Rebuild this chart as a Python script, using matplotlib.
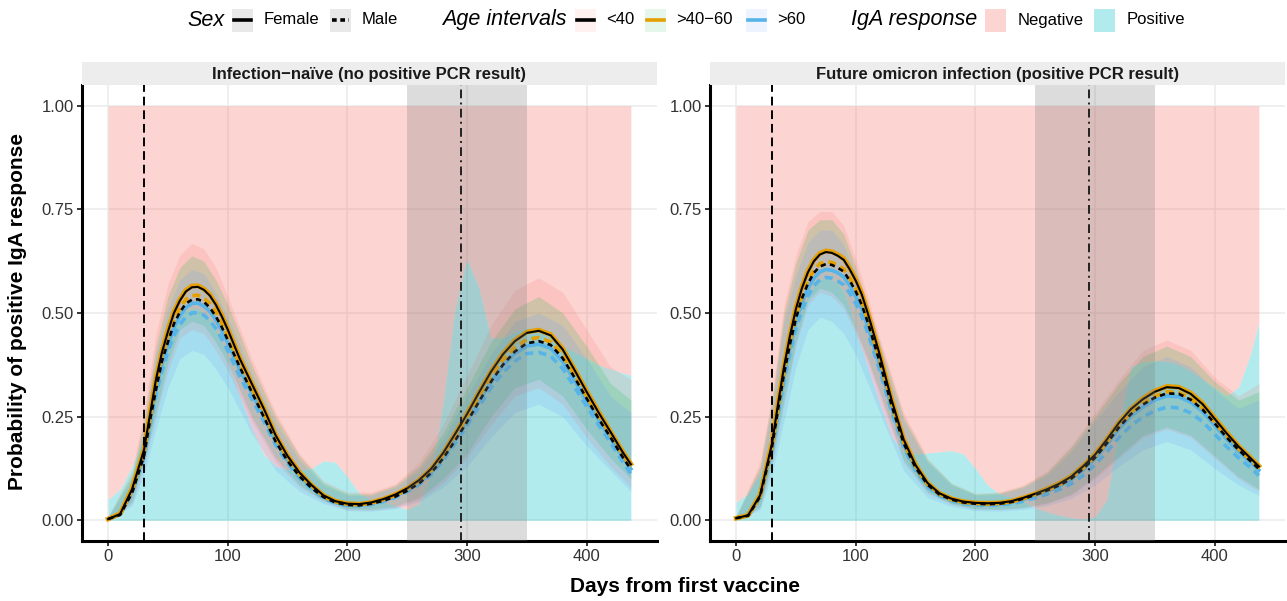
import matplotlib.pyplot as plt
from matplotlib.patches import Rectangle
from matplotlib.lines import Line2D

plt.rcParams['font.family'] = ['Liberation Sans', 'DejaVu Sans']

# grade de dias (curvas) e grade mais grossa (faixas de confiança)
dias = [0, 10, 20, 30,
        35, 40, 45, 50, 55, 60, 65, 70, 75, 80, 85, 90, 95, 100, 105,
        110, 120, 130, 140, 150, 160, 170, 180, 190,
        200, 210, 220, 230, 240, 250, 260, 270, 280, 290,
        300, 310, 320, 330, 340, 350, 360, 370, 380, 390,
        400, 410, 420, 430, 437]
dias_faixa = [0, 20, 30, 40, 50, 60, 70, 80, 90, 100, 110, 120,
              140, 160, 180, 200, 220, 240, 260, 280, 300, 320, 340, 360, 380, 400, 420, 437]

titulos = ["Infection\u2212naïve (no positive PCR result)",
           "Future omicron infection (positive PCR result)"]
idades = ["<40", ">40\u221260", ">60"]
sexos = ["Female", "Male"]
respostas = ["Negative", "Positive"]

# limite superior da área "Positive" (o resto até 1 é "Negative")
positivo_naive = [0.05, 0.075, 0.13, 0.2,
                  0.27, 0.33, 0.39, 0.44, 0.47, 0.49, 0.505, 0.51, 0.51, 0.5, 0.485, 0.46, 0.43, 0.39, 0.345,
                  0.3, 0.22, 0.16, 0.13, 0.123, 0.122, 0.125, 0.143, 0.14,
                  0.105, 0.065, 0.048, 0.042, 0.035, 0.026, 0.04, 0.11, 0.28, 0.51,
                  0.63, 0.56, 0.44, 0.44, 0.455, 0.464, 0.46, 0.44, 0.42, 0.405,
                  0.39, 0.375, 0.365, 0.355, 0.35]
positivo_omicron = [0.043, 0.065, 0.11, 0.19,
                    0.26, 0.33, 0.40, 0.46, 0.505, 0.54, 0.565, 0.58, 0.585, 0.58, 0.57, 0.55, 0.51, 0.46, 0.415,
                    0.37, 0.28, 0.2, 0.165, 0.16, 0.162, 0.165, 0.168, 0.16,
                    0.125, 0.085, 0.064, 0.055, 0.045, 0.03, 0.02, 0.012, 0.006, 0.003,
                    0.008, 0.05, 0.22, 0.37, 0.382, 0.385, 0.383, 0.375, 0.36, 0.34,
                    0.32, 0.30, 0.32, 0.40, 0.476]

# curvas do modelo - painel 1
naive_f_lt40 = [0.003, 0.015, 0.075, 0.17,
                0.255, 0.34, 0.405, 0.455, 0.50, 0.53, 0.552, 0.562, 0.563, 0.556, 0.542, 0.52, 0.492, 0.46, 0.425,
                0.39, 0.33, 0.27, 0.205, 0.155, 0.115, 0.085, 0.06, 0.046,
                0.04, 0.039, 0.043, 0.051, 0.062, 0.077, 0.097, 0.124, 0.162, 0.208,
                0.256, 0.308, 0.358, 0.40, 0.432, 0.452, 0.457, 0.446, 0.412, 0.362,
                0.31, 0.26, 0.213, 0.165, 0.135]
naive_f_4060 = [0.003, 0.016, 0.077, 0.172,
                0.258, 0.343, 0.408, 0.46, 0.503, 0.533, 0.555, 0.565, 0.566, 0.558, 0.545, 0.523, 0.495, 0.462, 0.428,
                0.392, 0.331, 0.271, 0.206, 0.156, 0.116, 0.085, 0.06, 0.046,
                0.04, 0.039, 0.043, 0.051, 0.062, 0.077, 0.097, 0.124, 0.162, 0.209,
                0.257, 0.309, 0.359, 0.402, 0.434, 0.454, 0.459, 0.448, 0.414, 0.364,
                0.312, 0.262, 0.214, 0.166, 0.136]
naive_f_gt60 = [0.003, 0.014, 0.07, 0.158,
                0.237, 0.316, 0.377, 0.423, 0.465, 0.493, 0.513, 0.523, 0.524, 0.517, 0.504, 0.484, 0.458, 0.428, 0.395,
                0.363, 0.307, 0.251, 0.191, 0.144, 0.107, 0.079, 0.056, 0.043,
                0.037, 0.036, 0.04, 0.047, 0.058, 0.072, 0.09, 0.115, 0.151, 0.193,
                0.238, 0.286, 0.333, 0.372, 0.402, 0.42, 0.425, 0.415, 0.383, 0.337,
                0.288, 0.242, 0.198, 0.153, 0.124]
naive_m_lt40 = [0.003, 0.013, 0.066, 0.155,
                0.241, 0.315, 0.384, 0.43, 0.474, 0.502, 0.523, 0.532, 0.533, 0.527, 0.513, 0.492, 0.466, 0.435, 0.402,
                0.37, 0.31, 0.25, 0.19, 0.143, 0.106, 0.078, 0.056, 0.043,
                0.037, 0.036, 0.04, 0.047, 0.057, 0.071, 0.089, 0.114, 0.149, 0.192,
                0.237, 0.286, 0.334, 0.375, 0.407, 0.427, 0.432, 0.423, 0.391, 0.344,
                0.294, 0.245, 0.2, 0.153, 0.123]
naive_m_4060 = [0.003, 0.014, 0.072, 0.164,
                0.246, 0.328, 0.391, 0.444, 0.483, 0.511, 0.533, 0.542, 0.543, 0.536, 0.523, 0.502, 0.475, 0.444, 0.41,
                0.376, 0.318, 0.26, 0.198, 0.15, 0.111, 0.082, 0.058, 0.044,
                0.039, 0.038, 0.041, 0.049, 0.06, 0.074, 0.094, 0.12, 0.156, 0.2,
                0.247, 0.297, 0.345, 0.386, 0.417, 0.436, 0.441, 0.43, 0.398, 0.349,
                0.299, 0.251, 0.206, 0.159, 0.13]
naive_m_gt60 = [0.003, 0.013, 0.067, 0.151,
                0.227, 0.303, 0.36, 0.409, 0.445, 0.472, 0.491, 0.50, 0.501, 0.495, 0.482, 0.463, 0.438, 0.409, 0.378,
                0.347, 0.294, 0.24, 0.182, 0.138, 0.102, 0.076, 0.053, 0.041,
                0.036, 0.035, 0.038, 0.045, 0.055, 0.069, 0.086, 0.11, 0.144, 0.185,
                0.228, 0.274, 0.319, 0.356, 0.384, 0.402, 0.405, 0.396, 0.366, 0.321,
                0.275, 0.23, 0.188, 0.142, 0.112]

# curvas do modelo - painel 2
omicron_f_lt40 = [0.005, 0.012, 0.06, 0.185,
                  0.28, 0.37, 0.445, 0.51, 0.56, 0.598, 0.625, 0.641, 0.647, 0.645, 0.638, 0.628, 0.605, 0.578, 0.545,
                  0.50, 0.40, 0.29, 0.195, 0.133, 0.09, 0.065, 0.052, 0.045,
                  0.042, 0.041, 0.042, 0.046, 0.054, 0.064, 0.075, 0.088, 0.105, 0.13,
                  0.158, 0.195, 0.235, 0.268, 0.292, 0.31, 0.321, 0.319, 0.305, 0.28,
                  0.245, 0.21, 0.178, 0.15, 0.13]
omicron_f_4060 = [0.005, 0.012, 0.061, 0.187,
                  0.283, 0.372, 0.448, 0.513, 0.563, 0.601, 0.628, 0.644, 0.65, 0.648, 0.641, 0.631, 0.608, 0.581, 0.548,
                  0.503, 0.402, 0.292, 0.196, 0.134, 0.09, 0.065, 0.052, 0.045,
                  0.042, 0.041, 0.042, 0.046, 0.054, 0.064, 0.076, 0.089, 0.106, 0.131,
                  0.159, 0.196, 0.236, 0.269, 0.294, 0.312, 0.323, 0.321, 0.307, 0.282,
                  0.247, 0.212, 0.179, 0.151, 0.131]
omicron_f_gt60 = [0.005, 0.011, 0.056, 0.173,
                  0.262, 0.346, 0.416, 0.477, 0.524, 0.559, 0.584, 0.599, 0.605, 0.603, 0.597, 0.587, 0.566, 0.54, 0.51,
                  0.468, 0.374, 0.271, 0.182, 0.124, 0.084, 0.061, 0.049, 0.042,
                  0.039, 0.038, 0.039, 0.043, 0.05, 0.06, 0.07, 0.082, 0.098, 0.121,
                  0.148, 0.182, 0.22, 0.251, 0.273, 0.29, 0.3, 0.298, 0.285, 0.262,
                  0.229, 0.196, 0.166, 0.14, 0.121]
omicron_m_lt40 = [0.005, 0.011, 0.057, 0.177,
                  0.267, 0.353, 0.425, 0.487, 0.535, 0.571, 0.597, 0.612, 0.618, 0.616, 0.609, 0.60, 0.578, 0.552, 0.52,
                  0.478, 0.382, 0.277, 0.186, 0.127, 0.086, 0.062, 0.05, 0.043,
                  0.04, 0.039, 0.04, 0.044, 0.052, 0.061, 0.072, 0.084, 0.1, 0.124,
                  0.151, 0.186, 0.224, 0.256, 0.279, 0.296, 0.306, 0.305, 0.291, 0.267,
                  0.234, 0.2, 0.17, 0.143, 0.124]
omicron_m_4060 = [0.005, 0.011, 0.058, 0.178,
                  0.27, 0.357, 0.429, 0.492, 0.54, 0.577, 0.603, 0.619, 0.624, 0.622, 0.616, 0.606, 0.584, 0.558, 0.526,
                  0.483, 0.386, 0.28, 0.188, 0.128, 0.087, 0.063, 0.05, 0.043,
                  0.041, 0.04, 0.041, 0.044, 0.052, 0.062, 0.072, 0.085, 0.101, 0.125,
                  0.152, 0.188, 0.227, 0.259, 0.282, 0.299, 0.31, 0.308, 0.294, 0.27,
                  0.236, 0.203, 0.172, 0.145, 0.125]
omicron_m_gt60 = [0.005, 0.011, 0.054, 0.167,
                  0.253, 0.335, 0.403, 0.462, 0.507, 0.541, 0.566, 0.58, 0.586, 0.584, 0.577, 0.568, 0.548, 0.523, 0.493,
                  0.453, 0.362, 0.262, 0.176, 0.12, 0.081, 0.059, 0.047, 0.04,
                  0.037, 0.036, 0.037, 0.04, 0.046, 0.054, 0.063, 0.074, 0.088, 0.108,
                  0.134, 0.165, 0.2, 0.228, 0.249, 0.264, 0.273, 0.271, 0.259, 0.238,
                  0.208, 0.178, 0.151, 0.127, 0.108]

# faixas de confiança por idade (inferior / superior)
naive_lt40_sup = [0.01, 0.12, 0.26, 0.45, 0.57, 0.64, 0.668, 0.655, 0.61, 0.54, 0.465, 0.39,
                  0.26, 0.16, 0.095, 0.068, 0.068, 0.088, 0.14, 0.23, 0.35, 0.47, 0.555, 0.585, 0.55, 0.46, 0.37, 0.34]
naive_lt40_inf = [0.0, 0.04, 0.13, 0.25, 0.36, 0.44, 0.46, 0.45, 0.41, 0.36, 0.3, 0.24,
                  0.14, 0.08, 0.045, 0.025, 0.024, 0.03, 0.05, 0.09, 0.15, 0.23, 0.3, 0.32, 0.28, 0.2, 0.13, 0.08]
naive_4060_sup = [0.008, 0.11, 0.24, 0.42, 0.54, 0.61, 0.638, 0.625, 0.58, 0.52, 0.45, 0.375,
                  0.25, 0.155, 0.09, 0.064, 0.064, 0.084, 0.13, 0.21, 0.32, 0.43, 0.51, 0.54, 0.5, 0.42, 0.33, 0.29]
naive_4060_inf = [0.0, 0.045, 0.14, 0.26, 0.38, 0.46, 0.48, 0.47, 0.43, 0.38, 0.315, 0.25,
                  0.15, 0.085, 0.048, 0.028, 0.027, 0.034, 0.055, 0.1, 0.16, 0.25, 0.32, 0.34, 0.3, 0.22, 0.15, 0.1]
naive_gt60_sup = [0.008, 0.1, 0.22, 0.4, 0.51, 0.58, 0.605, 0.595, 0.55, 0.49, 0.425, 0.355,
                  0.235, 0.145, 0.085, 0.06, 0.06, 0.08, 0.12, 0.195, 0.3, 0.4, 0.48, 0.5, 0.47, 0.39, 0.3, 0.26]
naive_gt60_inf = [0.0, 0.035, 0.11, 0.22, 0.32, 0.39, 0.41, 0.4, 0.365, 0.32, 0.265, 0.21,
                  0.12, 0.07, 0.04, 0.023, 0.022, 0.028, 0.045, 0.08, 0.13, 0.2, 0.26, 0.28, 0.25, 0.18, 0.12, 0.07]

omicron_lt40_sup = [0.01, 0.14, 0.3, 0.52, 0.64, 0.72, 0.745, 0.745, 0.71, 0.63, 0.54, 0.44,
                    0.26, 0.15, 0.09, 0.065, 0.068, 0.085, 0.12, 0.18, 0.26, 0.34, 0.41, 0.435, 0.41, 0.345, 0.3, 0.33]
omicron_lt40_inf = [0.0, 0.03, 0.13, 0.28, 0.42, 0.52, 0.55, 0.54, 0.51, 0.45, 0.38, 0.3,
                    0.14, 0.065, 0.038, 0.027, 0.026, 0.03, 0.04, 0.06, 0.1, 0.15, 0.2, 0.22, 0.2, 0.15, 0.1, 0.07]
omicron_4060_sup = [0.01, 0.13, 0.29, 0.5, 0.62, 0.7, 0.725, 0.725, 0.69, 0.61, 0.52, 0.43,
                    0.25, 0.145, 0.088, 0.063, 0.066, 0.082, 0.115, 0.175, 0.25, 0.33, 0.395, 0.42, 0.395, 0.335, 0.29, 0.31]
omicron_4060_inf = [0.0, 0.032, 0.14, 0.29, 0.43, 0.53, 0.56, 0.55, 0.52, 0.46, 0.39, 0.31,
                    0.145, 0.068, 0.04, 0.028, 0.027, 0.031, 0.042, 0.063, 0.105, 0.155, 0.205, 0.225, 0.205, 0.155, 0.105, 0.075]
omicron_gt60_sup = [0.01, 0.12, 0.27, 0.48, 0.59, 0.67, 0.7, 0.7, 0.665, 0.59, 0.5, 0.41,
                    0.24, 0.14, 0.085, 0.06, 0.063, 0.079, 0.11, 0.165, 0.24, 0.31, 0.37, 0.395, 0.37, 0.315, 0.27, 0.29]
omicron_gt60_inf = [0.0, 0.025, 0.11, 0.24, 0.37, 0.46, 0.49, 0.48, 0.45, 0.4, 0.33, 0.26,
                    0.12, 0.055, 0.033, 0.023, 0.022, 0.026, 0.035, 0.052, 0.085, 0.13, 0.17, 0.19, 0.17, 0.125, 0.085, 0.06]

# eventos marcados nos dois painéis
dia_segunda_dose = 30
dia_reforco = 295
janela_omicron = (250, 350)

cor_neg = '#F8766D'
cor_pos = '#00BFC4'
cores_faixa = ['#F8766D', '#00BA38', '#619CFF']
cores_linha = ['black', '#E69F00', '#56B4E9']


def desenhar_painel(ax, positivo, curvas_f, curvas_m, faixas):
    ax.fill_between(dias, positivo, 1, color=cor_neg, alpha=0.3, lw=0, zorder=1)
    ax.fill_between(dias, 0, positivo, color=cor_pos, alpha=0.3, lw=0, zorder=1)

    for (inf, sup), cor in zip(faixas, cores_faixa):
        ax.fill_between(dias_faixa, inf, sup, color=cor, alpha=0.17, lw=0, zorder=2)

    # azul por baixo, laranja, preto por cima
    espessura = {0: 1.5, 1: 3.4, 2: 2.6}
    ordem = {0: 3.5, 1: 3.2, 2: 3.0}
    for i in [2, 1, 0]:
        ax.plot(dias, curvas_f[i], color=cores_linha[i], lw=espessura[i], zorder=ordem[i])
    tracos = {0: (0, (2.0, 1.6)), 1: (0, (2.2, 1.4)), 2: (0, (2.2, 1.5))}
    esp_m = {0: 1.9, 1: 2.6, 2: 2.6}
    ordem_m = {0: 3.6, 1: 3.3, 2: 3.1}
    for i in [2, 1, 0]:
        ax.plot(dias, curvas_m[i], color=cores_linha[i], lw=esp_m[i], ls=tracos[i], zorder=ordem_m[i])

    ax.axvline(dia_segunda_dose, color='black', lw=1.4, ls=(0, (4.5, 2.5)), zorder=5)
    ax.axvline(dia_reforco, color='black', lw=1.4, ls=(0, (4.5, 2.2, 1, 2.2)), zorder=5)
    ax.axvspan(janela_omicron[0], janela_omicron[1], color='#7F7F7F', alpha=0.27, lw=0, zorder=6)

    ax.set_xlim(-21.85, 458.85)
    ax.set_ylim(-0.05, 1.05)
    ax.set_xticks([0, 100, 200, 300, 400])
    ax.set_yticks([0, 0.25, 0.5, 0.75, 1.0])
    ax.set_yticklabels(["0.00", "0.25", "0.50", "0.75", "1.00"])
    ax.grid(True, color='#EBEBEB', lw=1.1)
    ax.set_axisbelow(True)
    for lado in ['top', 'right']:
        ax.spines[lado].set_visible(False)
    for lado in ['left', 'bottom']:
        ax.spines[lado].set_linewidth(2.2)
        ax.spines[lado].set_color('black')
    ax.tick_params(length=3.5, width=1.1, color='black', labelsize=12,
                   labelcolor='#333333', pad=2.5)


fig = plt.figure(figsize=(12.87, 6.01), dpi=100)
ax1 = fig.add_axes([82 / 1287, 1 - 541 / 601, 575 / 1287, 456 / 601])
ax2 = fig.add_axes([710 / 1287, 1 - 541 / 601, 575 / 1287, 456 / 601])

desenhar_painel(ax1, positivo_naive,
                [naive_f_lt40, naive_f_4060, naive_f_gt60],
                [naive_m_lt40, naive_m_4060, naive_m_gt60],
                [(naive_lt40_inf, naive_lt40_sup), (naive_4060_inf, naive_4060_sup),
                 (naive_gt60_inf, naive_gt60_sup)])
desenhar_painel(ax2, positivo_omicron,
                [omicron_f_lt40, omicron_f_4060, omicron_f_gt60],
                [omicron_m_lt40, omicron_m_4060, omicron_m_gt60],
                [(omicron_lt40_inf, omicron_lt40_sup), (omicron_4060_inf, omicron_4060_sup),
                 (omicron_gt60_inf, omicron_gt60_sup)])

fig.text(685 / 1287, 1 - 587 / 601, "Days from first vaccine", ha='center', va='center',
         fontsize=15, fontweight='bold', color='black')
fig.text(18 / 1287, 1 - 312 / 601, "Probability of positive IgA response", ha='center', va='center',
         rotation=90, fontsize=15, fontweight='bold', color='black')

# camada em pixels para tiras e legenda
leg = fig.add_axes([0, 0, 1, 1], zorder=10)
leg.set_xlim(0, 1287)
leg.set_ylim(601, 0)
leg.axis('off')
leg.patch.set_alpha(0)

for x0, titulo in zip([82, 710], titulos):
    leg.add_patch(Rectangle((x0, 62), 575, 23, color='#EDEDED', lw=0))
    leg.text(x0 + 287.5, 74, titulo, ha='center', va='center', fontsize=12,
             fontweight='bold', color='#1A1A1A')

yl = 20
leg.text(187, yl, "Sex", ha='left', va='center', fontsize=15.5, style='italic')
for x0, nome, estilo in zip([232, 330], sexos, ['-', (0, (1.3, 1.0))]):
    leg.add_patch(Rectangle((x0, 9), 21, 23, color='#E8E8E8', lw=0))
    leg.add_line(Line2D([x0 + 2, x0 + 19], [yl, yl], color='black', lw=2.6, ls=estilo))
    leg.text(x0 + 32, yl, nome, ha='left', va='center', fontsize=12)

leg.text(442, yl, "Age intervals", ha='left', va='center', fontsize=15.5, style='italic')
for x0, nome, cf, cl in zip([575, 645, 746], idades, cores_faixa, cores_linha):
    leg.add_patch(Rectangle((x0, 9), 21, 23, color=cf, alpha=0.1, lw=0))
    leg.add_line(Line2D([x0 + 2, x0 + 19], [yl, yl], color=cl, lw=2.6))
    leg.text(x0 + 31, yl, nome, ha='left', va='center', fontsize=12)

leg.text(851, yl, "IgA response", ha='left', va='center', fontsize=15.5, style='italic')
for x0, nome, cor in zip([985, 1094], respostas, [cor_neg, cor_pos]):
    leg.add_patch(Rectangle((x0, 9), 21, 23, color=cor, alpha=0.3, lw=0))
    leg.text(x0 + 33, yl, nome, ha='left', va='center', fontsize=12)

fig.savefig("out.png", dpi=100)
